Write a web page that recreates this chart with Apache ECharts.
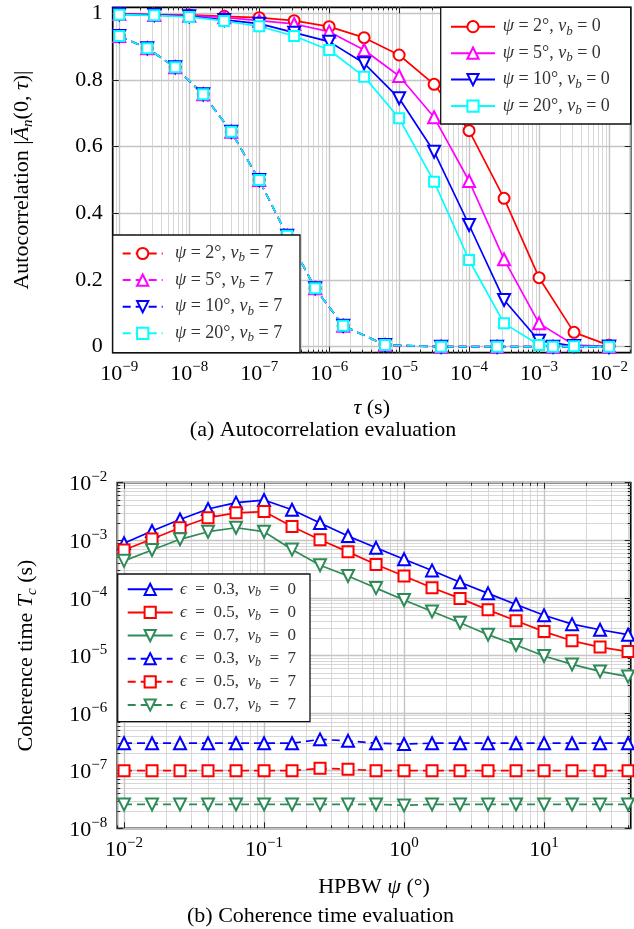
<!DOCTYPE html>
<html><head><meta charset="utf-8">
<script src="https://cdn.jsdelivr.net/npm/echarts@6/dist/echarts.min.js"></script>
<style>html,body{margin:0;padding:0;background:#fff}#c{width:634px;height:929px}</style>
</head><body><div id="c"></div>
<script>
const SERIF = "'Liberation Serif','DejaVu Serif',serif";

// ---------- (a) Autocorrelation ----------
const tauSolid = [1e-9, 3.162e-9, 1e-8, 3.162e-8, 1e-7, 3.162e-7, 1e-6, 3.162e-6, 1e-5, 3.162e-5, 1e-4, 3.162e-4, 1e-3, 3.162e-3, 1e-2];
const acPsi2Vb0  = [0.998, 0.996, 0.995, 0.991, 0.987, 0.978, 0.960, 0.927, 0.875, 0.787, 0.648, 0.445, 0.207, 0.043, 0.004];
const acPsi5Vb0  = [0.998, 0.995, 0.993, 0.988, 0.978, 0.968, 0.945, 0.890, 0.812, 0.688, 0.497, 0.262, 0.070, 0.005, 0.001];
const acPsi10Vb0 = [0.997, 0.995, 0.991, 0.980, 0.969, 0.942, 0.915, 0.850, 0.745, 0.585, 0.365, 0.140, 0.018, 0.002, 0.000];
const acPsi20Vb0 = [0.996, 0.994, 0.989, 0.977, 0.961, 0.932, 0.890, 0.810, 0.685, 0.495, 0.260, 0.070, 0.005, 0.001, 0.000];

const tauDashed = [1e-9, 2.512e-9, 6.31e-9, 1.585e-8, 3.981e-8, 1e-7, 2.512e-7, 6.31e-7, 1.585e-6, 6.31e-6, 3.981e-5, 2.512e-4, 1.585e-3, 1e-2];
const acPsi2Vb7  = [0.932, 0.895, 0.838, 0.757, 0.645, 0.500, 0.333, 0.175, 0.063, 0.005, 0.000, 0.000, 0.000, 0.000];
const acPsi5Vb7  = [0.932, 0.895, 0.838, 0.757, 0.645, 0.500, 0.333, 0.175, 0.063, 0.005, 0.000, 0.000, 0.000, 0.000];
const acPsi10Vb7 = [0.932, 0.895, 0.838, 0.757, 0.645, 0.500, 0.333, 0.175, 0.063, 0.005, 0.000, 0.000, 0.000, 0.000];
const acPsi20Vb7 = [0.932, 0.895, 0.838, 0.757, 0.645, 0.500, 0.333, 0.175, 0.063, 0.005, 0.000, 0.000, 0.000, 0.000];

const topPsiDeg = [2, 5, 10, 20];
const topXTickExps = [-9, -8, -7, -6, -5, -4, -3, -2];
const topYTicks = [0, 0.2, 0.4, 0.6, 0.8, 1];
const topYTickLabels = ['0', '0.2', '0.4', '0.6', '0.8', '1'];

// ---------- (b) Coherence time ----------
const hpbw = [0.01, 0.01585, 0.02512, 0.03981, 0.0631, 0.1, 0.1585, 0.2512, 0.3981, 0.631, 1, 1.585, 2.512, 3.981, 6.31, 10, 15.85, 25.12, 39.81];
const tcEps03Vb0 = [8.9e-4, 1.45e-3, 2.3e-3, 3.5e-3, 4.5e-3, 5.0e-3, 3.4e-3, 2.0e-3, 1.19e-3, 7.4e-4, 4.7e-4, 3.0e-4, 1.87e-4, 1.2e-4, 7.7e-5, 5.0e-5, 3.5e-5, 2.8e-5, 2.3e-5];
const tcEps05Vb0 = [6.8e-4, 1.05e-3, 1.65e-3, 2.47e-3, 3.0e-3, 3.15e-3, 1.73e-3, 1.02e-3, 6.3e-4, 3.8e-4, 2.4e-4, 1.5e-4, 9.8e-5, 6.2e-5, 4.0e-5, 2.6e-5, 1.8e-5, 1.4e-5, 1.17e-5];
const tcEps07Vb0 = [4.4e-4, 6.8e-4, 1.04e-3, 1.41e-3, 1.65e-3, 1.41e-3, 6.9e-4, 3.7e-4, 2.4e-4, 1.48e-4, 9.2e-5, 5.8e-5, 3.7e-5, 2.3e-5, 1.52e-5, 9.8e-6, 7.0e-6, 5.3e-6, 4.3e-6];
const tcEps03Vb7 = [3.0e-7, 3.0e-7, 3.0e-7, 3.0e-7, 3.0e-7, 3.0e-7, 3.0e-7, 3.5e-7, 3.3e-7, 3.0e-7, 2.9e-7, 3.0e-7, 3.0e-7, 3.0e-7, 3.0e-7, 3.0e-7, 3.0e-7, 3.0e-7, 3.0e-7];
const tcEps05Vb7 = [1.0e-7, 1.0e-7, 1.0e-7, 1.0e-7, 1.0e-7, 1.0e-7, 1.0e-7, 1.1e-7, 1.06e-7, 1.0e-7, 1.0e-7, 1.0e-7, 1.0e-7, 1.0e-7, 1.0e-7, 1.0e-7, 1.0e-7, 1.0e-7, 1.0e-7];
const tcEps07Vb7 = [2.6e-8, 2.6e-8, 2.6e-8, 2.6e-8, 2.6e-8, 2.6e-8, 2.6e-8, 2.6e-8, 2.6e-8, 2.6e-8, 2.5e-8, 2.6e-8, 2.6e-8, 2.6e-8, 2.6e-8, 2.6e-8, 2.6e-8, 2.6e-8, 2.6e-8];

const botEps = ['0.3', '0.5', '0.7'];
const botXTickExps = [-2, -1, 0, 1];
const botYTickExps = [-8, -7, -6, -5, -4, -3, -2];

// ---------- styling helpers ----------
const MAJOR_GRID = {color: '#c4c4c4', width: 1.4};
const MINOR_GRID = {color: '#cdcdcd', width: 0.8};
const TICK = {color: '#222', width: 1};

function minorLogPositions(lo, hi) {
  const out = [];
  for (let n = Math.floor(lo) - 1; n <= Math.ceil(hi); n++) {
    for (let k = 2; k <= 9; k++) {
      const v = n + Math.log10(k);
      if (v > lo + 1e-4 && v < hi - 1e-4) out.push(v);
    }
  }
  return out;
}
const powRich = {
  b: {fontFamily: SERIF, fontSize: 22, lineHeight: 26, verticalAlign: 'bottom', color: '#000'},
  s: {fontFamily: SERIF, fontSize: 15, lineHeight: 14, verticalAlign: 'top', color: '#000'}
};
function powLabel(v) {
  const e = Math.round(v);
  return '{b|10}{s|' + (e < 0 ? '\u2212' : '') + Math.abs(e) + '}';
}
const nameStyle = {
  fontFamily: SERIF, fontSize: 22, color: '#000', lineHeight: 26,
  rich: {
    i: {fontFamily: SERIF, fontStyle: 'italic', fontSize: 22, lineHeight: 26, color: '#000'},
    sub: {fontFamily: SERIF, fontStyle: 'italic', fontSize: 15, lineHeight: 14, verticalAlign: 'bottom', color: '#000'}
  }
};

function axis(o) {
  const showLabel = !!o.labels;
  return {
    type: 'value', gridIndex: o.grid, min: o.min, max: o.max, position: o.position,
    axisLine: {show: false, onZero: false},
    axisTick: {show: true, inside: true, length: o.tickLen, customValues: o.values, lineStyle: TICK},
    axisLabel: showLabel ? Object.assign({show: true, customValues: o.values}, o.labels) : {show: false},
    splitLine: o.split ? {show: true, lineStyle: o.split} : {show: false},
    minorTick: {show: false}, minorSplitLine: {show: false},
    name: o.name || '', nameLocation: 'middle', nameGap: o.nameGap || 0, nameTextStyle: nameStyle,
    silent: true, animation: false
  };
}

const TX = [-9.094, -1.69], TY = [-0.018, 1.018];
const BX = [-2.048, 1.619], BY = [-8, -2];

const xAxes = [
  // grid 0
  axis({grid: 0, min: TX[0], max: TX[1], position: 'bottom', tickLen: 6, values: topXTickExps, split: MAJOR_GRID,
        labels: {margin: 7, formatter: powLabel, rich: powRich},
        name: '{i|\u03c4} (s)', nameGap: 43}),
  axis({grid: 0, min: TX[0], max: TX[1], position: 'bottom', tickLen: 3, values: minorLogPositions(TX[0], TX[1]), split: MINOR_GRID}),
  axis({grid: 0, min: TX[0], max: TX[1], position: 'top', tickLen: 6, values: topXTickExps}),
  axis({grid: 0, min: TX[0], max: TX[1], position: 'top', tickLen: 3, values: minorLogPositions(TX[0], TX[1])}),
  // grid 1
  axis({grid: 1, min: BX[0], max: BX[1], position: 'bottom', tickLen: 6, values: botXTickExps, split: MAJOR_GRID,
        labels: {margin: 7, formatter: powLabel, rich: powRich},
        name: 'HPBW {i|\u03c8} (\u00b0)', nameGap: 46}),
  axis({grid: 1, min: BX[0], max: BX[1], position: 'bottom', tickLen: 3, values: minorLogPositions(BX[0], BX[1]), split: MINOR_GRID}),
  axis({grid: 1, min: BX[0], max: BX[1], position: 'top', tickLen: 6, values: botXTickExps}),
  axis({grid: 1, min: BX[0], max: BX[1], position: 'top', tickLen: 3, values: minorLogPositions(BX[0], BX[1])})
];
const yAxes = [
  // grid 0
  axis({grid: 0, min: TY[0], max: TY[1], position: 'left', tickLen: 6, values: topYTicks, split: MAJOR_GRID,
        labels: {margin: 10, fontFamily: SERIF, fontSize: 22, color: '#000',
                 formatter: v => topYTickLabels[topYTicks.findIndex(t => Math.abs(t - v) < 1e-6)]},
        name: 'Autocorrelation |{i|\u0100}{sub|n}(0, {i|\u03c4})|', nameGap: 77}),
  axis({grid: 0, min: TY[0], max: TY[1], position: 'right', tickLen: 6, values: topYTicks}),
  // grid 1
  axis({grid: 1, min: BY[0], max: BY[1], position: 'left', tickLen: 6, values: botYTickExps, split: MAJOR_GRID,
        labels: {margin: 10, formatter: powLabel, rich: powRich},
        name: 'Coherence time {i|T}{sub|c} (s)', nameGap: 78}),
  axis({grid: 1, min: BY[0], max: BY[1], position: 'left', tickLen: 3, values: minorLogPositions(BY[0], BY[1]), split: MINOR_GRID}),
  axis({grid: 1, min: BY[0], max: BY[1], position: 'right', tickLen: 6, values: botYTickExps}),
  axis({grid: 1, min: BY[0], max: BY[1], position: 'right', tickLen: 3, values: minorLogPositions(BY[0], BY[1])})
];

const DASH = [8, 5];
function mkSeries(name, xs, ys, xi, yi, color, symbol, size, dashed, logY) {
  const s = {
    type: 'line', name: name, xAxisIndex: xi, yAxisIndex: yi,
    data: xs.map((x, i) => [Math.log10(x), logY ? Math.log10(ys[i]) : ys[i]]),
    symbol: symbol, symbolSize: size, showSymbol: true, showAllSymbol: true,
    lineStyle: {color: color, width: 1.7, type: dashed ? DASH : 'solid'},
    itemStyle: {color: color, borderColor: color, borderWidth: 1.7},
    clip: false, silent: true, animation: false, z: 3
  };
  if (symbol === 'downTriangle') { s.symbol = 'emptyTriangle'; s.symbolRotate = 180; }
  return s;
}
const topColors = ['#ff0000', '#ff00ff', '#0000ff', '#00ffff'];
const topSymbols = ['emptyCircle', 'emptyTriangle', 'downTriangle', 'emptyRect'];
const topSizes = [11, 12, 12, 10];
const topSolid = [acPsi2Vb0, acPsi5Vb0, acPsi10Vb0, acPsi20Vb0];
const topDashed = [acPsi2Vb7, acPsi5Vb7, acPsi10Vb7, acPsi20Vb7];

const botColors = ['#0000ff', '#ff0000', '#2e8b57'];
const botSymbols = ['emptyTriangle', 'emptyRect', 'downTriangle'];
const botSizes = [12, 11, 12];
const botSolid = [tcEps03Vb0, tcEps05Vb0, tcEps07Vb0];
const botDashed = [tcEps03Vb7, tcEps05Vb7, tcEps07Vb7];

const series = [];
const legendText = {};
const topSolidNames = [], topDashedNames = [], botNames = [];
topPsiDeg.forEach((p, i) => {
  const n = 'a_psi' + p + '_vb0';
  topSolidNames.push(n);
  legendText[n] = '{i|\u03c8} = ' + p + '\u00b0, {i|v}{sub|b} = 0';
  series.push(mkSeries(n, tauSolid, topSolid[i], 0, 0, topColors[i], topSymbols[i], topSizes[i], false, false));
});
topPsiDeg.forEach((p, i) => {
  const n = 'a_psi' + p + '_vb7';
  topDashedNames.push(n);
  legendText[n] = '{i|\u03c8} = ' + p + '\u00b0, {i|v}{sub|b} = 7';
  series.push(mkSeries(n, tauDashed, topDashed[i], 0, 0, topColors[i], topSymbols[i], topSizes[i], true, false));
});
botEps.forEach((e, i) => {
  const n = 'b_eps' + e + '_vb0';
  botNames.push(n);
  legendText[n] = '{i|\u03f5}  =  ' + e + ',  {i|v}{sub|b}  =  0';
  series.push(mkSeries(n, hpbw, botSolid[i], 4, 2, botColors[i], botSymbols[i], botSizes[i], false, true));
});
botEps.forEach((e, i) => {
  const n = 'b_eps' + e + '_vb7';
  botNames.push(n);
  legendText[n] = '{i|\u03f5}  =  ' + e + ',  {i|v}{sub|b}  =  7';
  series.push(mkSeries(n, hpbw, botDashed[i], 4, 2, botColors[i], botSymbols[i], botSizes[i], true, true));
});

function legendTextStyle(fs, lh, padLeft) {
  return {
    fontFamily: SERIF, fontSize: fs, lineHeight: lh, color: '#333', padding: [0, 0, 0, padLeft],
    rich: {
      i: {fontFamily: SERIF, fontStyle: 'italic', fontSize: fs, lineHeight: lh, color: '#333'},
      sub: {fontFamily: SERIF, fontStyle: 'italic', fontSize: Math.round(fs * 0.72), lineHeight: lh - 8, verticalAlign: 'bottom', color: '#333'}
    }
  };
}
function mkLegend(names, left, top, itemWidth, gap, fs, lh, padLeft) {
  return {
    data: names, orient: 'vertical', left: left, top: top, padding: 0,
    itemWidth: itemWidth, itemHeight: 14, itemGap: gap, selectedMode: false,
    backgroundColor: 'transparent', borderWidth: 0,
    formatter: n => legendText[n], textStyle: legendTextStyle(fs, lh, padLeft), z: 10
  };
}
function legendBox(x0, y0, x1, y1) {
  return {type: 'rect', z: 8, silent: true,
          shape: {x: x0, y: y0, width: x1 - x0, height: y1 - y0},
          style: {fill: '#fff', stroke: '#111', lineWidth: 1.3}};
}

const option = {
  animation: false,
  backgroundColor: '#fff',
  grid: [
    {left: 112.7, top: 7.3, width: 518, height: 345.4, show: true, borderColor: '#000', borderWidth: 1.7, backgroundColor: 'transparent', outerBoundsMode: 'none', containLabel: false},
    {left: 117.3, top: 482.7, width: 513.4, height: 345.6, show: true, borderColor: '#000', borderWidth: 1.7, backgroundColor: 'transparent', outerBoundsMode: 'none', containLabel: false}
  ],
  xAxis: xAxes,
  yAxis: yAxes,
  legend: [
    mkLegend(topSolidNames, 450, 15.7, 44, 4.45, 18, 22, 2.7),
    mkLegend(topDashedNames, 121.7, 242.5, 40, 4.6, 18, 22, 7.3),
    mkLegend(botNames, 126.7, 579.3, 45, 3.14, 17, 20, 2.3)
  ],
  series: series,
  graphic: [
    legendBox(440.7, 7.3, 630.7, 124),
    legendBox(112.7, 235, 300, 352.7),
    legendBox(117.7, 574, 310, 721.7),
    {type: 'text', x: 323, y: 430, silent: true,
     style: {text: '(a) Autocorrelation evaluation', fontFamily: SERIF, fontSize: 22, fill: '#000', align: 'center', verticalAlign: 'middle', textAlign: 'center', textVerticalAlign: 'middle'}},
    {type: 'text', x: 320.5, y: 916, silent: true,
     style: {text: '(b) Coherence time evaluation', fontFamily: SERIF, fontSize: 22, fill: '#000', align: 'center', verticalAlign: 'middle', textAlign: 'center', textVerticalAlign: 'middle'}}
  ]
};

const chart = echarts.init(document.getElementById('c'), null, {renderer: 'canvas', width: 634, height: 929});
chart.setOption(option);
</script>
</body></html>
